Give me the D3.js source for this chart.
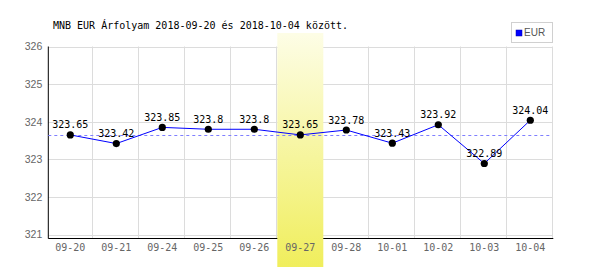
<!DOCTYPE html>
<html>
<head>
<meta charset="utf-8">
<script src="https://cdn.jsdelivr.net/npm/d3@7"></script>
<style>
	body { margin: 0; background: #fff; }
	svg { display: block; }
</style>
</head>
<body>
<div id="chart"></div>
<script>
const dates = ["09-20","09-21","09-24","09-25","09-26","09-27","09-28","10-01","10-02","10-03","10-04"];
const rates = [323.65, 323.42, 323.85, 323.8, 323.8, 323.65, 323.78, 323.43, 323.92, 322.89, 324.04];
const rateLabels = ["323.65","323.42","323.85","323.8","323.8","323.65","323.78","323.43","323.92","322.89","324.04"];
const yTicks = [321, 322, 323, 324, 325, 326];
const highlightDate = "09-27";
const title = "MNB EUR Árfolyam 2018-09-20 és 2018-10-04 között.";
const seriesName = "EUR";

const W = 600, H = 270,
	LEFT = 47.3, RIGHT = 553.3, TOP = 46.5, BOTTOM = 238,
	MONO = "'DejaVu Sans Mono', monospace",
	SANS = "'Liberation Sans', Arial, sans-serif";

var svg = d3.select("#chart").append("svg")
	.attr("width", W)
	.attr("height", H);

var x = d3.scaleBand().domain(dates).range([LEFT, RIGHT]);
var y = d3.scaleLinear().domain([320.91, 326]).range([BOTTOM, TOP]);

// gradient for highlighted day
var grad = svg.append("defs").append("linearGradient")
	.attr("id", "hl").attr("x1", 0).attr("y1", 0).attr("x2", 0).attr("y2", 1);
grad.append("stop").attr("offset", "0%").attr("stop-color", "#fdfde6");
grad.append("stop").attr("offset", "100%").attr("stop-color", "#f0ee5c");

// grid
svg.append("g").selectAll("line")
	.data(yTicks).enter().append("line")
	.attr("x1", LEFT + 1).attr("x2", RIGHT - 1)
	.attr("y1", d => Math.round(y(d)) + .5).attr("y2", d => Math.round(y(d)) + .5)
	.attr("stroke", "#dcdcdc");
svg.append("g").selectAll("line")
	.data(dates.slice(1).concat(["end"])).enter().append("line")
	.attr("x1", (d, i) => Math.round(LEFT + (i + 1) * x.bandwidth()) - .5)
	.attr("x2", (d, i) => Math.round(LEFT + (i + 1) * x.bandwidth()) - .5)
	.attr("y1", TOP).attr("y2", BOTTOM)
	.attr("stroke", "#dcdcdc");

// axes lines
svg.append("line")
	.attr("x1", LEFT + 1).attr("x2", LEFT + 1).attr("y1", TOP).attr("y2", BOTTOM + .5)
	.attr("stroke", "#000");
svg.append("line")
	.attr("x1", LEFT + 1).attr("x2", RIGHT).attr("y1", BOTTOM + .5).attr("y2", BOTTOM + .5)
	.attr("stroke", "#000");

// highlighted band
svg.append("rect")
	.attr("x", x(highlightDate))
	.attr("y", 33)
	.attr("width", x.bandwidth())
	.attr("height", 267 - 33)
	.attr("fill", "url(#hl)");

// y labels
var yAxis = svg.append("g")
	.attr("transform", "translate(" + (LEFT + 1) + ",0)")
	.call(d3.axisLeft(y).tickValues(yTicks).tickFormat(d3.format("d")).tickSize(0).tickPadding(6));
yAxis.select(".domain").remove();
yAxis.selectAll("text")
	.style("font-family", SANS).style("font-size", "10.5px").attr("fill", "#666");

// x labels
var xAxis = svg.append("g")
	.attr("transform", "translate(0," + BOTTOM + ")")
	.call(d3.axisBottom(x).tickSize(0).tickPadding(6));
xAxis.select(".domain").remove();
xAxis.selectAll("text")
	.style("font-family", MONO).style("font-size", "10px").attr("fill", "#666");

// mean line
var mean = d3.mean(rates);
svg.append("line")
	.attr("x1", LEFT + 1).attr("x2", RIGHT - 1)
	.attr("y1", Math.round(y(mean)) + .5).attr("y2", Math.round(y(mean)) + .5)
	.attr("stroke", "#7f7fff")
	.attr("stroke-dasharray", "3,3");

// series line
var line = d3.line()
	.x((d, i) => x(dates[i]) + x.bandwidth() / 2)
	.y(d => y(d));
svg.append("path")
	.datum(rates)
	.attr("d", line)
	.attr("fill", "none")
	.attr("stroke", "#0000ff")
	.attr("stroke-width", 1);

svg.append("g").selectAll("circle")
	.data(rates).enter().append("circle")
	.attr("cx", (d, i) => x(dates[i]) + x.bandwidth() / 2)
	.attr("cy", d => y(d))
	.attr("r", 3.6)
	.attr("fill", "#000");

svg.append("g").selectAll("text")
	.data(rates).enter().append("text")
	.attr("x", (d, i) => x(dates[i]) + x.bandwidth() / 2)
	.attr("y", d => y(d) - 6.5)
	.attr("text-anchor", "middle")
	.style("font-family", MONO).style("font-size", "10px")
	.attr("fill", "#000")
	.text((d, i) => rateLabels[i]);

// title
svg.append("text")
	.attr("x", 53).attr("y", 29)
	.style("font-family", MONO).style("font-size", "10px")
	.attr("fill", "#000")
	.text(title);

// legend
var legend = svg.append("g");
legend.append("rect")
	.attr("x", 511.5).attr("y", 22.5).attr("width", 41).attr("height", 20)
	.attr("fill", "#fff").attr("stroke", "#d0d0d0");
legend.append("rect")
	.attr("x", 516).attr("y", 30).attr("width", 6).attr("height", 6)
	.attr("fill", "#0000ff").attr("stroke", "#0000aa").attr("stroke-width", .5);
legend.append("text")
	.attr("x", 524).attr("y", 36)
	.style("font-family", SANS).style("font-size", "10px")
	.attr("fill", "#555")
	.text(seriesName);
</script>
</body>
</html>
